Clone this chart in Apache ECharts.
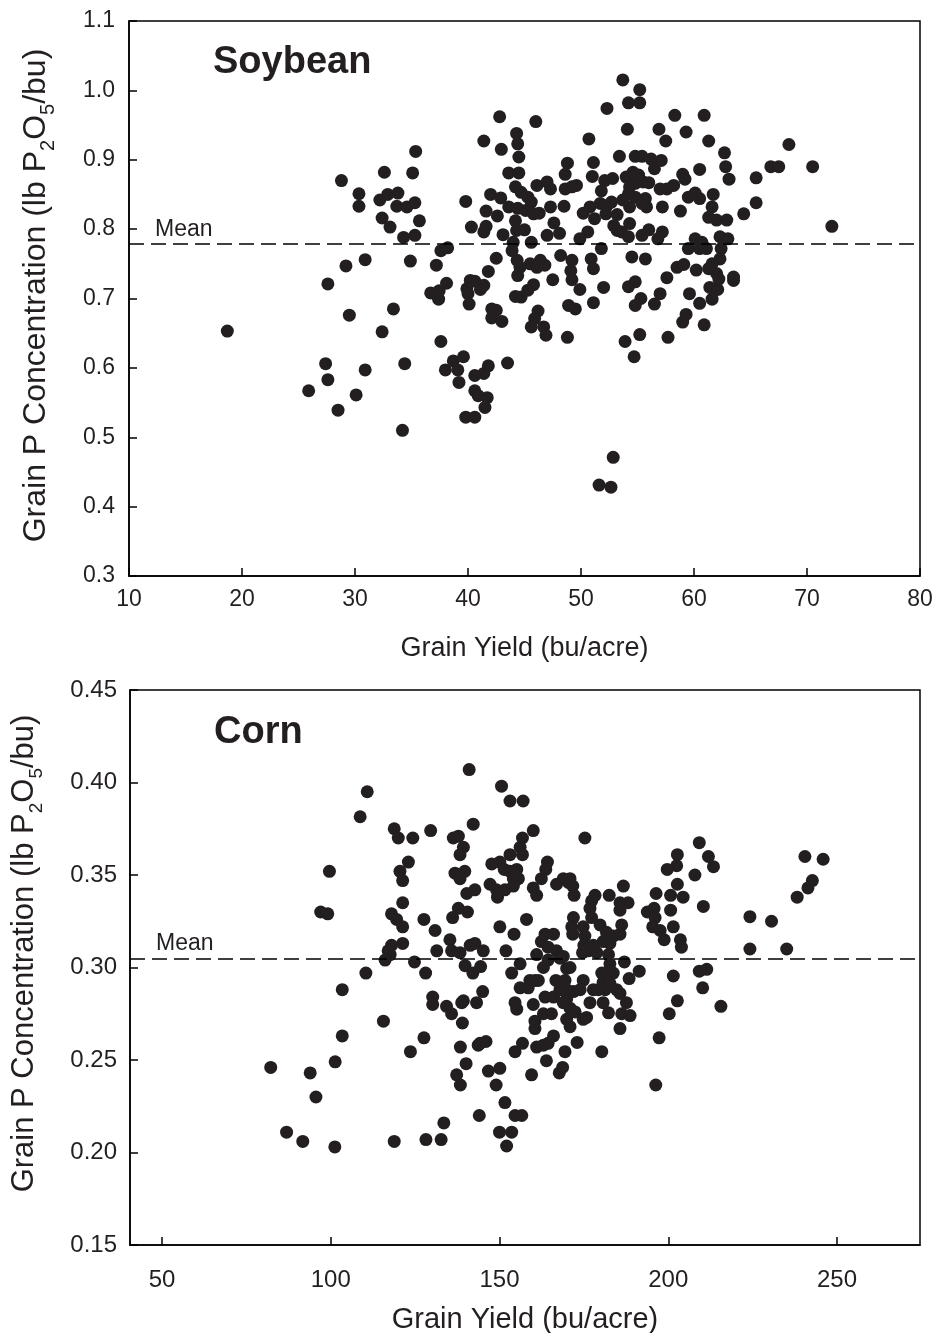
<!DOCTYPE html>
<html>
<head>
<meta charset="utf-8">
<script src="https://cdn.jsdelivr.net/npm/echarts@6/dist/echarts.min.js"></script>
<style>
html,body{margin:0;padding:0;background:#fff;}
#chart{width:937px;height:1333px;}
</style>
</head>
<body>
<div id="chart"></div>
<script>
// ---- Soybean data ----
const soyYield = [18.7,25.9,27.4,27.6,27.6,28.5,28.8,29.2,29.5,30.1,30.35,30.35,30.9,30.9,32.4,32.2,32.4,32.6,32.9,33.8,33.1,33.4,33.7,34.6,35.3,34.2,34.4,34.3,35.3,34.9,35.1,35.37,35.7,
37.6,38.2,37.2,38.1,36.7,37.45,37.4,37.6,38.0,38.7,39.1,39.2,39.6,
40.6,41.4,41.8,43.5,40.6,40.9,41.7,41.5,39.8,40.6,52.85,51.6,52.65,
42.8,46.0,41.4,44.3,44.4,44.5,42.95,50.7,48.8,48.6,51.1,51.0,43.6,44.5,46.1,47.0,47.3,44.2,44.7,45.3,45.6,48.6,49.2,49.6,42.0,42.9,39.8,
43.6,44.4,45.1,45.8,46.3,47.3,48.5,41.6,42.6,44.2,44.3,45.0,47.6,40.3,41.6,41.4,43.1,47.0,48.1,50.2,50.8,51.2,50.6,49.9,44.0,43.9,45.6,42.5,41.8,
44.35,44.6,44.4,45.5,46.4,46.8,46.1,48.2,49.2,49.1,49.2,50.9,51.1,47.5,45.8,45.3,44.7,44.2,49.9,51.1,
40.2,40.6,39.9,40.0,40.1,41.4,41.1,42.1,42.5,42.1,43.0,48.9,49.5,46.2,45.9,45.6,46.7,46.9,48.8,
53.9,55.2,54.7,57.7,59.0,59.3,60.9,52.0,54.2,54.8,54.8,55.3,56.5,57.0,59.6,60.5,61.6,61.4,62.1,63.5,
53.7,55.2,54.2,55.2,52.3,58.3,60.9,54.1,56.9,57.5,59.3,61.3,62.7,62.8,63.1,65.5,65.5,64.4,
53.4,54.8,55.4,56.2,57.1,56.5,52.1,52.8,51.8,54.0,54.6,55.1,54.3,54.8,55.5,56.0,57.0,57.6,58.2,59.0,59.2,60.5,
59.5,60.1,60.5,61.7,61.6,61.3,62.0,62.9,58.8,57.2,54.2,54.8,53.7,54.3,55.7,55.8,55.4,51.7,52.3,52.7,52.2,53.2,
52.9,53.2,53.6,54.3,54.2,55.4,56.0,56.8,57.2,51.8,54.5,55.7,60.1,60.7,61.1,59.5,60.5,62.3,63.0,62.4,62.3,
58.5,59.1,60.2,61.3,61.6,62.0,62.2,63.5,57.6,66.8,67.5,68.4,70.5,72.2];
const soyP = [0.653,0.567,0.606,0.583,0.721,0.539,0.870,0.747,0.676,0.561,0.851,0.833,0.597,0.756,0.652,0.842,0.816,0.882,0.850,0.852,0.803,0.685,0.833,0.832,0.838,0.510,0.606,0.788,0.791,0.754,0.881,0.912,0.812,
0.769,0.773,0.748,0.722,0.708,0.711,0.699,0.638,0.597,0.610,0.597,0.579,0.616,
0.589,0.592,0.603,0.607,0.567,0.560,0.557,0.543,0.529,0.529,0.471,0.431,0.428,
0.962,0.955,0.927,0.938,0.923,0.904,0.915,0.930,0.895,0.879,0.896,0.876,0.881,0.881,0.863,0.868,0.858,0.861,0.853,0.846,0.839,0.858,0.861,0.863,0.850,0.845,0.840,
0.832,0.830,0.827,0.822,0.823,0.832,0.833,0.826,0.819,0.812,0.798,0.799,0.809,0.803,0.804,0.796,0.792,0.791,0.794,0.823,0.832,0.815,0.796,0.786,0.781,0.769,0.781,0.758,0.739,
0.755,0.745,0.733,0.750,0.755,0.748,0.745,0.762,0.755,0.740,0.727,0.757,0.743,0.727,0.720,0.712,0.702,0.703,0.713,0.694,
0.726,0.725,0.714,0.707,0.692,0.719,0.713,0.685,0.683,0.672,0.667,0.690,0.685,0.682,0.671,0.659,0.659,0.647,0.644,
0.638,0.648,0.616,0.644,0.666,0.677,0.662,0.716,0.717,0.724,0.690,0.700,0.692,0.707,0.707,0.693,0.699,0.716,0.713,0.726,
1.015,1.001,0.982,0.982,0.974,0.964,0.964,0.944,0.944,0.927,0.940,0.927,0.910,0.890,0.872,0.874,0.838,0.822,
0.905,0.905,0.905,0.901,0.899,0.887,0.870,0.873,0.855,0.875,0.882,0.878,0.861,0.866,0.868,0.867,0.858,0.858,0.863,0.879,0.872,0.886,
0.846,0.852,0.844,0.850,0.832,0.817,0.813,0.813,0.826,0.832,0.851,0.846,0.842,0.832,0.844,0.832,0.837,0.837,0.834,0.839,0.822,0.821,
0.805,0.798,0.796,0.808,0.789,0.791,0.799,0.786,0.796,0.772,0.760,0.757,0.786,0.781,0.772,0.772,0.772,0.789,0.786,0.772,0.757,
0.745,0.749,0.741,0.743,0.750,0.736,0.728,0.731,0.730,0.890,0.890,0.922,0.890,0.804];
const soyMean = 0.779;
const soyXTicks = [10,20,30,40,50,60,70,80];
const soyYTicks = [0.3,0.4,0.5,0.6,0.7,0.8,0.9,1.0,1.1];

// ---- Corn data ----
const cornYield = [110.8,108.7,99.6,97.0,99.1,118.8,120.0,124.3,129.6,142.2,136.3,137.8,139.3,138.3,123.0,120.5,121.3,
136.8,139.7,138.3,140.3,142.7,121.3,118.0,119.5,121.3,127.6,130.9,136.1,137.8,140.5,
121.3,118.0,117.0,117.6,116.1,131.4,135.3,135.8,138.3,141.3,142.7,124.8,110.4,128.1,139.8,142.1,
103.4,130.2,130.2,134.3,135.8,139.3,138.8,143.2,139.0,115.6,103.4,127.6,123.6,138.4,143.7,
101.3,82.2,93.9,95.6,140.1,137.3,138.4,144.0,133.5,86.9,91.7,101.2,118.8,128.2,132.7,
141.0,150.6,153.1,157.0,160.0,156.8,156.1,156.8,153.1,150.1,147.7,164.2,163.7,162.4,
151.4,153.1,155.1,154.1,155.6,147.2,149.1,149.4,151.6,154.1,160.0,161.0,166.9,168.9,170.4,
150.1,154.3,158.0,163.5,166.0,162.4,164.4,166.9,145.2,151.9,161.0,164.4,163.0,167.9,169.9,
156.1,153.6,144.4,159.0,160.5,161.5,156.1,158.5,166.7,166.0,163.5,167.9,169.9,145.0,154.6,160.0,
144.2,146.0,146.7,150.1,149.0,155.1,160.5,160.5,163.0,165.4,154.6,156.8,161.0,163.0,164.4,166.0,
163.9,167.7,168.7,169.4,159.5,151.6,154.6,156.6,150.0,153.6,152.1,
175.3,209.2,211.9,202.7,202.5,199.7,207.9,202.7,200.7,204.4,196.4,210.4,
193.8,195.8,196.1,195.4,197.6,198.8,200.7,201.5,203.6,203.9,170.9,171.7,172.1,
178.3,177.3,176.8,177.3,182.5,186.7,185.7,188.1,185.7,171.9,171.4,171.7,174.8,175.3,175.0,
179.8,181.7,180.7,182.7,183.7,186.2,185.7,177.8,176.3,174.6,178.8,
182.3,182.7,182.3,180.3,183.7,180.7,182.7,187.0,188.4,191.4,201.5,
209.2,211.4,210.2,202.7,200.3,197.3,196.3,168.9,170.9,169.4,174.8,
169.9,171.9,173.9,177.8,179.3,181.3,184.7,185.7,187.6,176.8,180.7,182.3,186.2,188.7,
168.9,170.9,169.9,172.4,174.8,175.8,170.9,185.7,173.0,180.3,
224.2,230.6,224.2,235.1,240.5,245.9,242.7,241.4,238.2,213.4,215.6];
const cornP = [0.395,0.3815,0.352,0.330,0.329,0.375,0.370,0.370,0.374,0.3775,0.370,0.371,0.365,0.361,0.357,0.352,0.347,
0.351,0.352,0.348,0.340,0.342,0.335,0.329,0.326,0.322,0.326,0.320,0.327,0.332,0.330,
0.313,0.312,0.309,0.307,0.304,0.309,0.315,0.309,0.308,0.312,0.313,0.303,0.297,0.297,0.301,0.297,
0.288,0.284,0.280,0.279,0.275,0.282,0.281,0.281,0.270,0.271,0.263,0.262,0.2545,0.257,0.258,
0.249,0.246,0.243,0.230,0.248,0.242,0.2365,0.220,0.216,0.211,0.206,0.203,0.206,0.207,0.207,
0.407,0.398,0.390,0.390,0.374,0.370,0.365,0.361,0.361,0.357,0.356,0.357,0.353,0.348,
0.353,0.352,0.353,0.348,0.348,0.345,0.342,0.338,0.342,0.344,0.343,0.339,0.345,0.348,0.346,
0.322,0.318,0.326,0.318,0.318,0.314,0.311,0.309,0.309,0.309,0.307,0.304,0.300,0.305,0.2995,
0.302,0.297,0.3005,0.293,0.293,0.293,0.289,0.289,0.293,0.284,0.284,0.288,0.283,0.287,0.281,0.280,
0.259,0.260,0.244,0.2455,0.2365,0.2775,0.271,0.267,0.275,0.275,0.2545,0.259,0.257,0.258,0.259,0.263,
0.2496,0.243,0.246,0.2545,0.242,0.227,0.220,0.220,0.211,0.211,0.2035,
0.370,0.3675,0.360,0.361,0.355,0.353,0.350,0.345,0.339,0.338,0.340,0.333,
0.330,0.332,0.327,0.322,0.320,0.315,0.331,0.322,0.315,0.311,0.348,0.344,0.339,
0.339,0.336,0.332,0.327,0.339,0.344,0.335,0.335,0.331,0.327,0.322,0.318,0.322,0.317,0.312,
0.323,0.319,0.314,0.313,0.317,0.323,0.318,0.312,0.309,0.308,0.308,
0.307,0.302,0.298,0.297,0.297,0.292,0.2915,0.303,0.294,0.298,0.2954,
0.298,0.299,0.289,0.282,0.275,0.262,0.2365,0.306,0.300,0.293,0.293,
0.288,0.287,0.288,0.288,0.288,0.288,0.288,0.286,0.281,0.281,0.281,0.2755,0.275,0.274,
0.281,0.278,0.272,0.276,0.272,0.273,0.268,0.267,0.2595,0.2545,
0.3275,0.325,0.310,0.310,0.360,0.3585,0.347,0.343,0.338,0.3545,0.279];
const cornMean = 0.305;
const cornXTicks = [50,100,150,200,250];
const cornYTicks = [0.15,0.20,0.25,0.30,0.35,0.40,0.45];

const FONT = '"Liberation Sans", Arial, Helvetica, sans-serif';
const INK = '#231f20';

function zip(a, b){ return a.map((v,i)=>[v,b[i]]); }

const yName = '{n|Grain P Concentration (lb P}{s|2}{n|O}{s|5}{n|/bu)}';
function yNameStyle(size, shift){
  return {
    fontFamily: FONT, color: INK,
    padding: [0, 0, 0, shift],
    rich: {
      n: {fontSize: size, fontFamily: FONT, color: INK, lineHeight: size + 12, verticalAlign: 'middle'},
      s: {fontSize: Math.round(size*0.62), fontFamily: FONT, color: INK, lineHeight: size + 12, verticalAlign: 'bottom'}
    }
  };
}

const axisCommon = {
  axisLine: {show: true, onZero: false, lineStyle: {color: '#000', width: 1.5}},
  axisTick: {show: true, inside: true, length: 8, lineStyle: {color: '#000', width: 1.5}},
  splitLine: {show: false}
};

function meanLine(v){
  return {
    silent: true, symbol: ['none','none'], precision: 4,
    lineStyle: {color: '#000', type: [15,7], width: 1.5},
    label: {show: true, position: 'insideStartTop', formatter: 'Mean', fontSize: 23, fontFamily: FONT, color: INK, distance: [26, 3]},
    data: [{yAxis: v}]
  };
}

const chart = echarts.init(document.getElementById('chart'), null, {renderer: 'canvas'});
chart.setOption({
  backgroundColor: '#fff',
  animation: false,
  grid: [
    {left: 129, top: 21, width: 791, height: 555, show: true, borderColor: '#000', borderWidth: 1.5, backgroundColor: 'transparent', containLabel: false, outerBoundsMode: 'none'},
    {left: 130, top: 690, width: 790, height: 555, show: true, borderColor: '#000', borderWidth: 1.5, backgroundColor: 'transparent', containLabel: false, outerBoundsMode: 'none'}
  ],
  xAxis: [
    Object.assign({}, axisCommon, {
      gridIndex: 0, type: 'value', min: soyXTicks[0], max: soyXTicks[soyXTicks.length-1], interval: 10,
      axisLabel: {fontSize: 23, fontFamily: FONT, color: INK, margin: 12},
      name: 'Grain Yield (bu/acre)', nameLocation: 'middle', nameGap: 59,
      nameTextStyle: {fontSize: 27, fontFamily: FONT, color: INK}
    }),
    Object.assign({}, axisCommon, {
      gridIndex: 1, type: 'value', min: 40.5, max: 274.6,
      axisTick: Object.assign({}, axisCommon.axisTick, {customValues: cornXTicks}),
      axisLabel: {fontSize: 24, fontFamily: FONT, color: INK, margin: 23, customValues: cornXTicks},
      name: 'Grain Yield (bu/acre)', nameLocation: 'middle', nameGap: 60,
      nameTextStyle: {fontSize: 29, fontFamily: FONT, color: INK}
    })
  ],
  yAxis: [
    Object.assign({}, axisCommon, {
      gridIndex: 0, type: 'value', min: soyYTicks[0], max: soyYTicks[soyYTicks.length-1], interval: 0.1,
      axisLabel: {fontSize: 23, fontFamily: FONT, color: INK, margin: 14, formatter: v => v.toFixed(1)},
      name: yName, nameLocation: 'middle', nameGap: 71,
      nameTextStyle: yNameStyle(32, 6)
    }),
    Object.assign({}, axisCommon, {
      gridIndex: 1, type: 'value', min: cornYTicks[0], max: cornYTicks[cornYTicks.length-1], interval: 0.05,
      axisLabel: {fontSize: 24, fontFamily: FONT, color: INK, margin: 13, formatter: v => v.toFixed(2)},
      name: yName, nameLocation: 'middle', nameGap: 84,
      nameTextStyle: yNameStyle(31, 28)
    })
  ],
  graphic: [
    {type: 'text', left: 213, top: 44, style: {text: 'Soybean', font: 'bold 38px ' + FONT, fill: INK}},
    {type: 'text', left: 214, top: 714, style: {text: 'Corn', font: 'bold 38px ' + FONT, fill: INK}}
  ],
  series: [
    {
      type: 'scatter', xAxisIndex: 0, yAxisIndex: 0, data: zip(soyYield, soyP),
      symbolSize: 13, itemStyle: {color: INK, opacity: 1},
      markLine: meanLine(soyMean)
    },
    {
      type: 'scatter', xAxisIndex: 1, yAxisIndex: 1, data: zip(cornYield, cornP),
      symbolSize: 13, itemStyle: {color: INK, opacity: 1},
      markLine: meanLine(cornMean)
    }
  ]
});
</script>
</body>
</html>
